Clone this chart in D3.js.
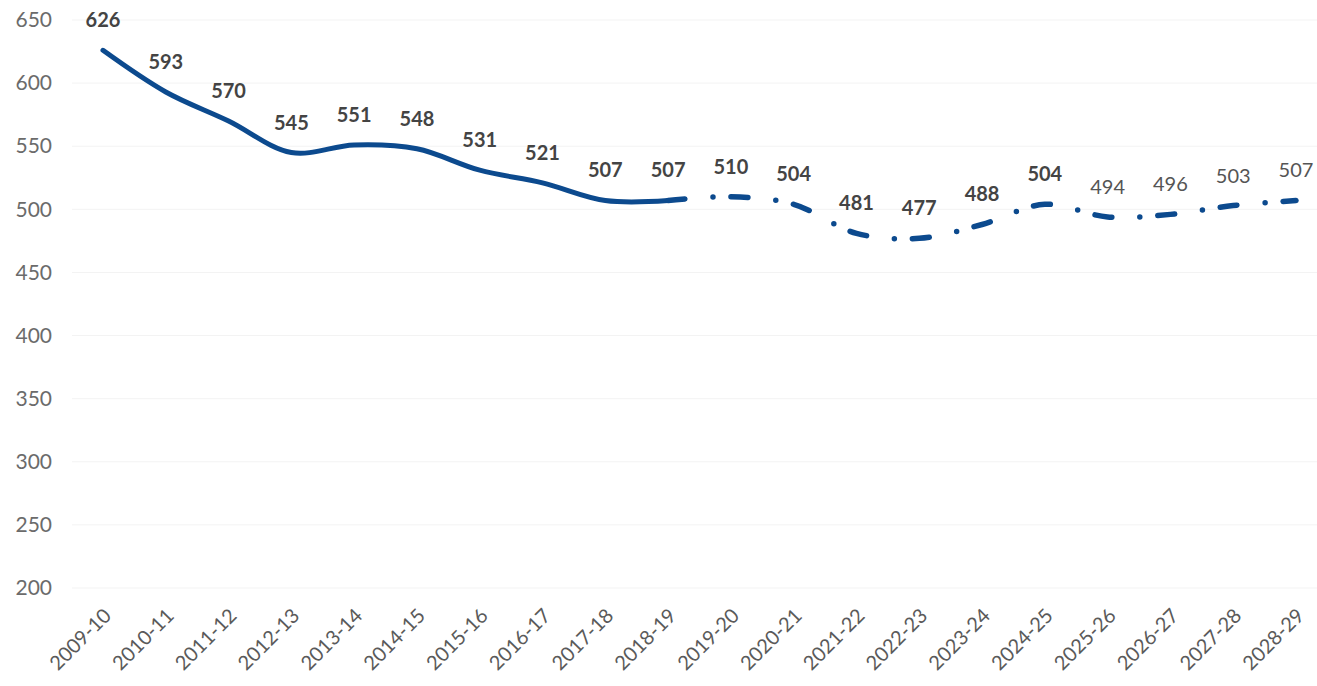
<!DOCTYPE html>
<html lang="en">
<head>
    <meta charset="UTF-8">
    <title>Trend and projection</title>
    <script src="https://cdn.jsdelivr.net/npm/d3@7"></script>
    <style>
        body { margin: 0; background: #fff; }
        text { font-family: Lato, "Open Sans", sans-serif; }
    </style>
</head>
<body>
    <svg width="1317" height="686"></svg>
    <script>
        // data
        var years = ["2009-10", "2010-11", "2011-12", "2012-13", "2013-14", "2014-15", "2015-16",
            "2016-17", "2017-18", "2018-19", "2019-20", "2020-21", "2021-22", "2022-23", "2023-24",
            "2024-25", "2025-26", "2026-27", "2027-28", "2028-29"];
        var values = [626, 593, 570, 545, 551, 548, 531, 521, 507, 507, 510, 504, 481, 477, 488,
            504, 494, 496, 503, 507];
        var yTicks = [200, 250, 300, 350, 400, 450, 500, 550, 600, 650];
        var lastActual = "2018-19";   // solid up to here, dash-dot after
        var lastBold = "2024-25";     // labels bold up to here

        var svg = d3.select("svg");

        var x = d3.scalePoint().domain(years).range([103, 1296]);
        var y = d3.scaleLinear().domain([200, 650]).range([588, 20]);

        var data = years.map(function(d, i) { return { year: d, value: values[i], i: i }; });
        var cut = years.indexOf(lastActual);
        var boldCut = years.indexOf(lastBold);

        // faint gridlines
        svg.append("g").selectAll("line")
            .data(yTicks)
            .enter().append("line")
            .attr("x1", 72).attr("x2", 1317)
            .attr("y1", function(d) { return y(d); })
            .attr("y2", function(d) { return y(d); })
            .attr("stroke", "#f3f3f3")
            .attr("stroke-width", 1);

        // y axis labels
        var yAxis = svg.append("g")
            .attr("transform", "translate(52,0)")
            .call(d3.axisLeft(y).tickValues(yTicks).tickSize(0).tickPadding(0));
        yAxis.select(".domain").remove();
        yAxis.selectAll("text")
            .attr("font-family", "Lato, sans-serif")
            .attr("font-size", "21px")
            .attr("fill", "#6b6b6b");

        // x axis labels, rotated
        var xAxis = svg.append("g")
            .attr("transform", "translate(0,612)")
            .call(d3.axisBottom(x).tickSize(0).tickPadding(0));
        xAxis.select(".domain").remove();
        xAxis.selectAll("text")
            .attr("font-family", "Lato, sans-serif")
            .attr("font-size", "20px")
            .attr("fill", "#5a5a5a")
            .attr("text-anchor", "end")
            .attr("dy", "0.35em")
            .attr("transform", "translate(4,0) rotate(-45)");

        var line = d3.line()
            .x(function(d) { return x(d.year); })
            .y(function(d) { return y(d.value); })
            .curve(d3.curveCatmullRom.alpha(0.5));

        // actual
        svg.append("path")
            .datum(data.slice(0, cut + 1))
            .attr("d", line)
            .attr("fill", "none")
            .attr("stroke", "#0c4a8e")
            .attr("stroke-width", 5)
            .attr("stroke-linecap", "round");

        // projection
        svg.append("path")
            .datum(data.slice(cut))
            .attr("d", line)
            .attr("fill", "none")
            .attr("stroke", "#0c4a8e")
            .attr("stroke-width", 5.5)
            .attr("stroke-linecap", "round")
            .attr("stroke-dasharray", "17,28,0,18");

        // value labels
        svg.append("g").selectAll("text")
            .data(data)
            .enter().append("text")
            .attr("x", function(d) { return x(d.year); })
            .attr("y", function(d) { return y(d.value) - 23; })
            .attr("text-anchor", "middle")
            .attr("font-size", "20px")
            .attr("font-weight", function(d) { return d.i <= boldCut ? "bold" : "normal"; })
            .attr("fill", function(d) { return d.i <= boldCut ? "#444" : "#555"; })
            .text(function(d) { return d.value; });
    </script>
</body>
</html>
